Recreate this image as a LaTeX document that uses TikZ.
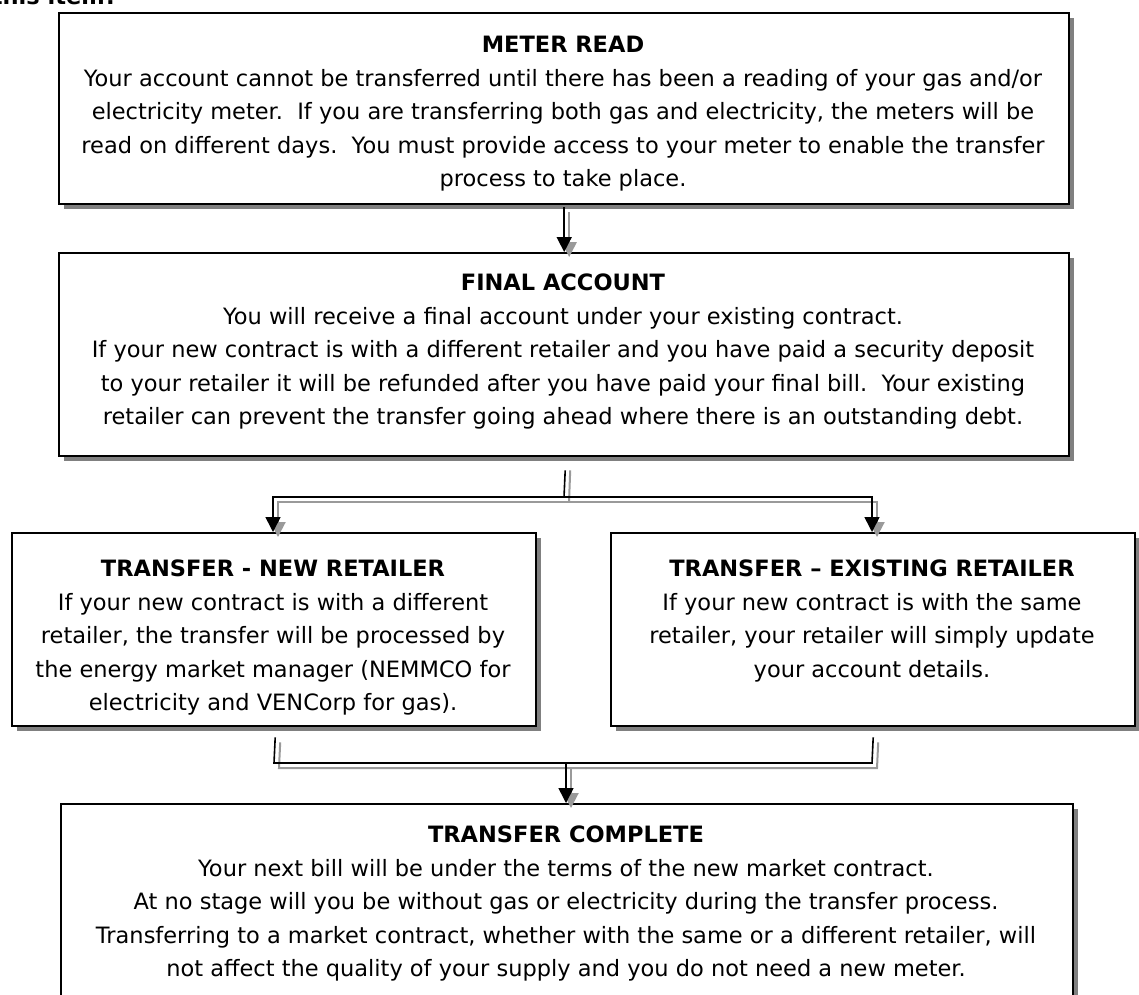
\documentclass[tikz,border=0pt]{standalone}
\usepackage{fontspec}
\setmainfont{DejaVu Sans}
\usetikzlibrary{arrows.meta,shadows}
\definecolor{shgray}{HTML}{808080}
\definecolor{lngray}{HTML}{9A9A9A}
\begin{document}
\begin{tikzpicture}[x=1pt,y=-1pt,
  box/.style={draw=black, line width=2.4pt, fill=white, anchor=north west, inner sep=0pt,
     drop shadow={shadow xshift=5pt, shadow yshift=-5pt, fill=shgray, opacity=1}},
  txt/.style={align=center, inner sep=0pt, anchor=north, font=\fontsize{22.5}{33.5}\selectfont},
  conn/.style={draw=black, line width=1.6pt},
  connsh/.style={draw=lngray, line width=2pt},
  tip/.style={-{Triangle[length=15pt,width=15pt]}},
]
\useasboundingbox[fill=white] (0,0) rectangle (1139,994);

\node[font=\bfseries\fontsize{22.5}{26}\selectfont, anchor=base east, inner sep=0pt] (top) at (118,4) {this item?};

% boxes
\node[box, minimum width=1010pt, minimum height=191pt] (b1) at (58,12) {};
\node[box, minimum width=1010pt, minimum height=203pt] (b2) at (58,252) {};
\node[box, minimum width=524pt, minimum height=193pt] (b3) at (11,532) {};
\node[box, minimum width=524pt, minimum height=193pt] (b4) at (610,532) {};
\node[box, minimum width=1012pt, minimum height=250pt] (b5) at (60,803) {};

% texts
\node[txt] (t1) at (563,36) {\textbf{METER READ}\\
Your account cannot be transferred until there has been a reading of your gas and/or\\
electricity meter.\ \ If you are transferring both gas and electricity, the meters will be\\
read on different days.\ \ You must provide access to your meter to enable the transfer\\
process to take place.};

\node[txt] (t2) at (563,274) {\textbf{FINAL ACCOUNT}\\
You will receive a final account under your existing contract.\\
If your new contract is with a different retailer and you have paid a security deposit\\
to your retailer it will be refunded after you have paid your final bill.\ \ Your existing\\
retailer can prevent the transfer going ahead where there is an outstanding debt.};

\node[txt] (t3) at (273,560) {\textbf{TRANSFER - NEW RETAILER}\\
If your new contract is with a different\\
retailer, the transfer will be processed by\\
the energy market manager (NEMMCO for\\
electricity and VENCorp for gas).};

\node[txt] (t4) at (872,560) {\textbf{TRANSFER -- EXISTING RETAILER}\\
If your new contract is with the same\\
retailer, your retailer will simply update\\
your account details.};

\node[txt] (t5) at (566,826) {\textbf{TRANSFER COMPLETE}\\
Your next bill will be under the terms of the new market contract.\\
At no stage will you be without gas or electricity during the transfer process.\\
Transferring to a market contract, whether with the same or a different retailer, will\\
not affect the quality of your supply and you do not need a new meter.};

% junction coordinates
\coordinate (jM) at (564,497);
\coordinate (jL) at (273,497);
\coordinate (jR) at (872,497);
\coordinate (uL) at (274,763);
\coordinate (uR) at (872,763);
\coordinate (uM) at (566,763);

% shadows of connectors
\begin{scope}[transform canvas={shift={(5pt,-5pt)}}]
\draw[connsh,tip] ([yshift=-2pt]b1.south) -- (b2.north);
\draw[connsh] ([xshift=1pt,yshift=-8pt]b2.south) -- (jM);
\draw[connsh,tip] (jM) -- (jL) -- (jL |- b3.north);
\draw[connsh,tip] (jM) -- (jR) -- (jR |- b4.north);
\draw[connsh] ([xshift=1pt,yshift=-10pt]b3.south) -- (uL) -- (uR) -- ([yshift=-10pt]b4.south);
\draw[connsh,tip] (uM) -- (uM |- b5.north);
\end{scope}

% connectors
\draw[conn,tip] ([yshift=-2pt]b1.south) -- (b2.north);
\draw[conn] ([xshift=1pt,yshift=-13pt]b2.south) -- (jM);
\draw[conn,tip] (jM) -- (jL) -- (jL |- b3.north);
\draw[conn,tip] (jM) -- (jR) -- (jR |- b4.north);
\draw[conn] ([xshift=1pt,yshift=-10pt]b3.south) -- (uL) -- (uR) -- ([yshift=-10pt]b4.south);
\draw[conn,tip] (uM) -- (uM |- b5.north);
\end{tikzpicture}
\end{document}
